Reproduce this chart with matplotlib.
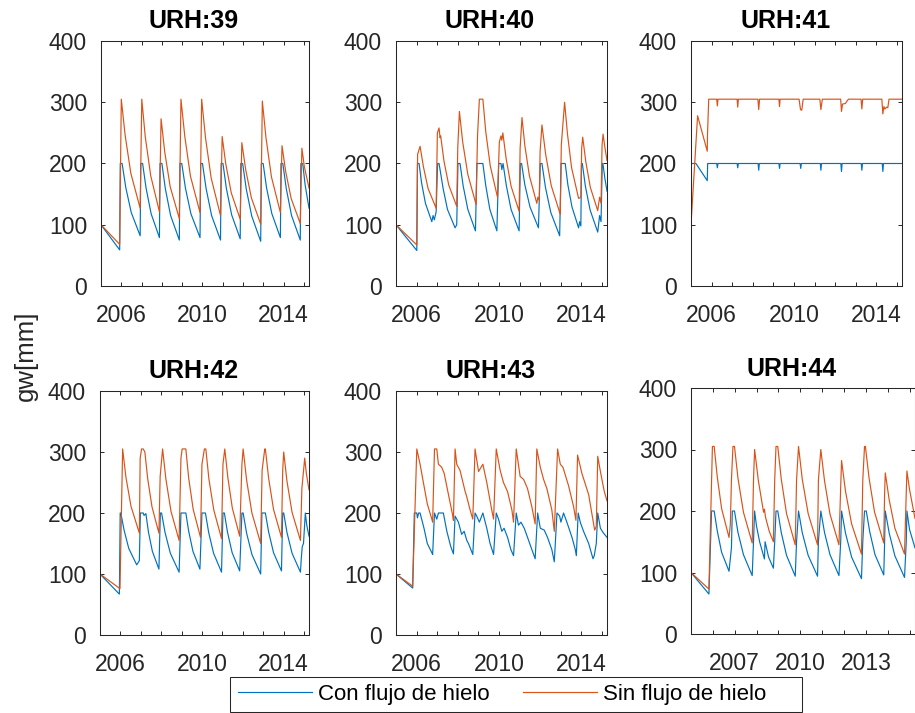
import matplotlib
matplotlib.use("Agg")
import matplotlib.pyplot as plt
from matplotlib.patches import Rectangle
from matplotlib.lines import Line2D

plt.rcParams['font.family'] = ['Liberation Sans', 'DejaVu Sans']

# ---------------------------------------------------------------------------
# Groundwater storage gw [mm] per hydrological response unit (URH),
# simulated with ice flow ("Con") and without ice flow ("Sin").
# Each series is a list of (decimal year, gw) vertices.
# ---------------------------------------------------------------------------
URH39_CON = [(2005.00, 100), (2005.92, 59), (2005.95, 200), (2006.04, 200), (2006.22, 161), (2006.49, 120), (2006.93, 82),
             (2006.96, 200), (2007.05, 200), (2007.22, 160), (2007.47, 118), (2007.88, 79),
             (2007.91, 200), (2008.00, 200), (2008.17, 159), (2008.43, 115), (2008.86, 75),
             (2008.89, 200), (2008.98, 200), (2009.16, 160), (2009.43, 118), (2009.88, 79),
             (2009.91, 200), (2010.00, 200), (2010.18, 159), (2010.45, 115), (2010.89, 75),
             (2010.92, 200), (2011.01, 200), (2011.18, 159), (2011.44, 116), (2011.86, 77),
             (2011.89, 200), (2011.98, 200), (2012.16, 158), (2012.43, 114), (2012.87, 73),
             (2012.90, 200), (2012.99, 200), (2013.16, 160), (2013.42, 118), (2013.84, 79),
             (2013.87, 200), (2013.96, 200), (2014.13, 159), (2014.39, 115), (2014.82, 75),
             (2014.85, 200), (2014.94, 200), (2015.06, 165), (2015.25, 127)]
URH39_SIN = [(2005.00, 100), (2005.92, 68), (2006.00, 305), (2006.19, 246), (2006.47, 184), (2006.93, 127),
             (2007.01, 305), (2007.18, 244), (2007.45, 180), (2007.88, 121),
             (2007.96, 273), (2008.14, 219), (2008.41, 162), (2008.86, 110),
             (2008.94, 305), (2009.13, 244), (2009.41, 179), (2009.88, 120),
             (2009.96, 305), (2010.15, 242), (2010.43, 176), (2010.89, 115),
             (2010.97, 244), (2011.15, 199), (2011.42, 152), (2011.86, 109),
             (2011.94, 234), (2012.13, 190), (2012.41, 144), (2012.87, 101),
             (2012.95, 302), (2013.13, 242), (2013.40, 178), (2013.84, 120),
             (2013.92, 229), (2014.10, 187), (2014.37, 143), (2014.82, 102),
             (2014.90, 225), (2015.02, 195), (2015.25, 160)]

URH40_CON = [(2005.00, 100), (2006.01, 58), (2006.04, 200), (2006.12, 200), (2006.24, 169), (2006.43, 135), (2006.74, 105),
             (2006.80, 115), (2006.86, 108), (2006.95, 121),
             (2007.02, 200), (2007.09, 200), (2007.14, 190), (2007.29, 159), (2007.50, 125), (2007.87, 95), (2007.95, 100),
             (2008.01, 200), (2008.11, 200), (2008.26, 164), (2008.49, 125), (2008.86, 90),
             (2008.93, 200), (2009.22, 200), (2009.36, 164), (2009.56, 125), (2009.90, 90),
             (2009.99, 200), (2010.10, 200), (2010.14, 190), (2010.20, 200), (2010.36, 164), (2010.59, 125), (2010.98, 90),
             (2011.04, 200), (2011.10, 200), (2011.26, 165), (2011.51, 129), (2011.92, 95),
             (2012.01, 200), (2012.09, 200), (2012.26, 161), (2012.52, 120), (2012.95, 82),
             (2013.02, 200), (2013.22, 200), (2013.35, 165), (2013.55, 129), (2013.87, 95), (2013.92, 105), (2013.98, 98),
             (2014.01, 200), (2014.05, 200), (2014.20, 163), (2014.43, 124), (2014.80, 88), (2014.89, 115), (2014.96, 105),
             (2015.02, 200), (2015.05, 200), (2015.15, 175), (2015.25, 155)]
URH40_SIN = [(2005.00, 100), (2006.01, 67), (2006.05, 215), (2006.17, 228), (2006.33, 195), (2006.56, 159), (2006.95, 127),
             (2007.01, 250), (2007.09, 258), (2007.14, 242), (2007.17, 245), (2007.33, 204), (2007.56, 165), (2007.95, 130),
             (2008.00, 225), (2008.08, 285), (2008.24, 235), (2008.49, 182), (2008.89, 133),
             (2008.96, 245), (2009.05, 305), (2009.22, 305), (2009.36, 252), (2009.58, 196), (2009.93, 145),
             (2010.02, 235), (2010.10, 245), (2010.14, 238), (2010.19, 250), (2010.35, 208), (2010.59, 163), (2010.98, 122),
             (2011.03, 225), (2011.12, 275), (2011.26, 229), (2011.48, 180), (2011.84, 135), (2011.89, 145), (2011.96, 140),
             (2012.00, 220), (2012.09, 263), (2012.27, 215), (2012.54, 164), (2012.98, 117),
             (2013.03, 230), (2013.19, 300), (2013.33, 248), (2013.53, 193), (2013.87, 143), (2013.98, 145),
             (2014.02, 225), (2014.07, 243), (2014.22, 203), (2014.44, 161), (2014.80, 123), (2014.89, 145), (2014.96, 135),
             (2015.01, 230), (2015.06, 248), (2015.14, 228), (2015.25, 205)]

URH41_CON = [(2005.00, 200), (2005.24, 200), (2005.79, 172), (2005.81, 200),
             (2006.25, 200), (2006.28, 193), (2006.31, 200),
             (2007.24, 200), (2007.27, 193), (2007.30, 200),
             (2008.26, 200), (2008.29, 189), (2008.32, 200),
             (2009.27, 200), (2009.30, 192), (2009.33, 200),
             (2010.30, 200), (2010.33, 192), (2010.36, 200),
             (2011.28, 200), (2011.31, 189), (2011.34, 200),
             (2012.28, 200), (2012.31, 187), (2012.34, 200),
             (2013.27, 200), (2013.30, 189), (2013.33, 200),
             (2014.29, 200), (2014.32, 187), (2014.35, 200),
             (2015.25, 200)]
URH41_SIN = [(2005.00, 100), (2005.32, 278), (2005.79, 220), (2005.80, 245), (2005.86, 305),
             (2006.25, 305), (2006.28, 294), (2006.31, 305),
             (2007.24, 305), (2007.27, 292), (2007.30, 305),
             (2008.25, 305), (2008.29, 288), (2008.33, 305),
             (2009.27, 305), (2009.30, 293), (2009.33, 305),
             (2010.25, 305), (2010.32, 288), (2010.38, 287), (2010.45, 305),
             (2011.26, 305), (2011.31, 288), (2011.38, 305),
             (2012.27, 305), (2012.31, 285), (2012.36, 297), (2012.50, 298), (2012.60, 303), (2012.65, 305),
             (2013.26, 305), (2013.30, 289), (2013.34, 305),
             (2014.27, 305), (2014.32, 281), (2014.37, 293), (2014.42, 289), (2014.50, 292), (2014.56, 291), (2014.62, 305),
             (2015.25, 305)]

URH42_CON = [(2005.00, 100), (2005.95, 67), (2005.99, 200), (2006.02, 200), (2006.18, 172), (2006.41, 142), (2006.80, 115), (2006.93, 122),
             (2006.98, 200), (2007.12, 200), (2007.16, 196), (2007.25, 199), (2007.38, 168), (2007.57, 137), (2007.89, 108),
             (2007.96, 200), (2008.02, 200), (2008.19, 168), (2008.45, 134), (2008.88, 103),
             (2008.97, 200), (2009.21, 200), (2009.35, 170), (2009.56, 137), (2009.90, 108),
             (2010.00, 200), (2010.17, 200), (2010.33, 168), (2010.57, 134), (2010.96, 103),
             (2011.03, 200), (2011.10, 200), (2011.25, 169), (2011.48, 135), (2011.85, 105),
             (2011.96, 200), (2012.02, 200), (2012.19, 167), (2012.45, 132), (2012.88, 100),
             (2012.94, 200), (2013.11, 200), (2013.27, 169), (2013.51, 135), (2013.90, 105),
             (2013.96, 200), (2014.01, 200), (2014.17, 168), (2014.42, 134), (2014.83, 103),
             (2014.87, 125), (2014.92, 145), (2014.98, 150), (2015.07, 200), (2015.14, 180), (2015.25, 162)]
URH42_SIN = [(2005.00, 100), (2005.98, 76), (2006.11, 305), (2006.27, 259), (2006.52, 211), (2006.93, 167),
             (2006.97, 290), (2007.04, 305), (2007.12, 305), (2007.20, 300), (2007.34, 256), (2007.55, 210), (2007.89, 167),
             (2007.95, 260), (2008.07, 305), (2008.23, 256), (2008.48, 203), (2008.88, 155),
             (2008.97, 290), (2009.03, 305), (2009.21, 305), (2009.35, 257), (2009.57, 206), (2009.93, 160),
             (2010.00, 280), (2010.12, 305), (2010.19, 305), (2010.34, 256), (2010.58, 205), (2010.96, 158),
             (2011.03, 280), (2011.12, 305), (2011.27, 258), (2011.49, 208), (2011.85, 162),
             (2011.96, 280), (2012.02, 305), (2012.19, 254), (2012.45, 200), (2012.88, 150),
             (2012.95, 270), (2013.08, 305), (2013.11, 305), (2013.27, 257), (2013.51, 206), (2013.90, 160),
             (2013.96, 270), (2014.01, 300), (2014.17, 252), (2014.42, 201), (2014.83, 155),
             (2014.90, 240), (2015.04, 290), (2015.12, 265), (2015.25, 238)]

URH43_CON = [(2005.00, 100), (2005.81, 77), (2005.89, 200), (2006.01, 200), (2006.04, 192), (2006.10, 200), (2006.17, 200),
             (2006.36, 175), (2006.52, 150), (2006.74, 135), (2006.78, 132),
             (2006.87, 200), (2006.98, 190), (2007.06, 200), (2007.30, 200), (2007.47, 170), (2007.66, 145), (2007.79, 133),
             (2007.87, 195), (2008.03, 185), (2008.19, 165), (2008.31, 170), (2008.44, 155), (2008.52, 150), (2008.73, 132),
             (2008.84, 200), (2008.92, 195), (2009.05, 185), (2009.22, 200), (2009.41, 175), (2009.57, 150), (2009.74, 132),
             (2009.87, 200), (2009.98, 190), (2010.14, 170), (2010.25, 175), (2010.42, 160), (2010.58, 140), (2010.71, 130),
             (2010.84, 200), (2010.95, 180), (2011.07, 185), (2011.23, 175), (2011.39, 160), (2011.60, 140), (2011.76, 125),
             (2011.88, 200), (2012.01, 175), (2012.20, 172), (2012.36, 160), (2012.57, 140), (2012.69, 120),
             (2012.82, 200), (2012.95, 195), (2013.01, 185), (2013.14, 200), (2013.30, 185), (2013.55, 160), (2013.71, 140), (2013.76, 130),
             (2013.85, 200), (2013.95, 185), (2014.11, 170), (2014.36, 150), (2014.57, 125), (2014.63, 130), (2014.73, 150),
             (2014.80, 200), (2014.93, 175), (2015.06, 168), (2015.25, 160)]
URH43_SIN = [(2005.00, 100), (2005.81, 80), (2006.01, 305), (2006.17, 280), (2006.33, 250), (2006.52, 215), (2006.74, 190), (2006.78, 185),
             (2006.87, 305), (2006.98, 305), (2007.06, 280), (2007.22, 275), (2007.34, 265), (2007.55, 230), (2007.76, 195), (2007.79, 188),
             (2007.87, 305), (2007.95, 280), (2008.11, 270), (2008.36, 235), (2008.41, 230), (2008.60, 205), (2008.73, 190),
             (2008.84, 305), (2009.01, 268), (2009.22, 280), (2009.41, 250), (2009.65, 205), (2009.74, 190),
             (2009.87, 305), (2010.06, 270), (2010.22, 250), (2010.42, 235), (2010.63, 205), (2010.71, 185),
             (2010.84, 305), (2011.03, 260), (2011.20, 255), (2011.39, 240), (2011.60, 210), (2011.76, 182),
             (2011.84, 305), (2012.01, 275), (2012.17, 255), (2012.33, 240), (2012.57, 205), (2012.69, 170),
             (2012.85, 305), (2012.98, 280), (2013.11, 275), (2013.38, 245), (2013.63, 210), (2013.74, 188),
             (2013.82, 295), (2014.03, 265), (2014.36, 230), (2014.65, 172), (2014.73, 178),
             (2014.80, 293), (2014.93, 268), (2015.06, 245), (2015.12, 235), (2015.25, 220)]

URH44_CON = [(2005.00, 100), (2005.82, 65), (2005.94, 200), (2006.06, 200), (2006.20, 168), (2006.40, 133), (2006.74, 102),
             (2006.85, 140), (2006.89, 200), (2006.99, 200), (2007.15, 165), (2007.40, 129), (2007.80, 95),
             (2007.86, 150), (2007.91, 200), (2008.00, 175), (2008.14, 150), (2008.36, 122), (2008.39, 150), (2008.55, 125), (2008.77, 107),
             (2008.83, 150), (2008.89, 200), (2008.97, 200), (2009.13, 165), (2009.37, 128), (2009.77, 94),
             (2009.83, 150), (2009.92, 200), (2010.09, 165), (2010.36, 128), (2010.79, 94),
             (2010.83, 150), (2010.94, 200), (2011.11, 165), (2011.36, 129), (2011.77, 95),
             (2011.85, 150), (2011.89, 200), (2012.07, 164), (2012.35, 125), (2012.80, 90),
             (2012.86, 150), (2012.94, 200), (2013.02, 200), (2013.18, 166), (2013.42, 129), (2013.82, 96),
             (2013.86, 150), (2013.89, 200), (2014.07, 164), (2014.33, 127), (2014.77, 92),
             (2014.85, 150), (2014.88, 200), (2015.00, 170), (2015.25, 140)]
URH44_SIN = [(2005.00, 100), (2005.82, 73), (2005.98, 305), (2006.06, 305), (2006.20, 256), (2006.40, 204), (2006.74, 157), (2006.80, 178),
             (2006.85, 250), (2006.92, 305), (2006.99, 305), (2007.15, 253), (2007.40, 198), (2007.80, 148),
             (2007.86, 250), (2007.91, 300), (2008.08, 250), (2008.32, 198), (2008.36, 203), (2008.41, 190), (2008.58, 167), (2008.77, 150),
             (2008.83, 250), (2008.89, 305), (2008.97, 305), (2009.13, 252), (2009.37, 196), (2009.77, 145),
             (2009.83, 250), (2009.92, 305), (2010.09, 252), (2010.36, 196), (2010.79, 145),
             (2010.83, 250), (2010.94, 300), (2011.11, 249), (2011.36, 195), (2011.77, 145),
             (2011.85, 240), (2011.89, 282), (2012.07, 232), (2012.35, 179), (2012.80, 130),
             (2012.86, 250), (2012.94, 305), (2012.98, 305), (2013.15, 253), (2013.40, 198), (2013.82, 148),
             (2013.86, 230), (2013.89, 262), (2014.07, 218), (2014.33, 172), (2014.77, 130),
             (2014.85, 230), (2014.88, 265), (2015.00, 235), (2015.25, 188)]

TITLES = ["URH:39", "URH:40", "URH:41", "URH:42", "URH:43", "URH:44"]
SERIES_CON = [URH39_CON, URH40_CON, URH41_CON, URH42_CON, URH43_CON, URH44_CON]
SERIES_SIN = [URH39_SIN, URH40_SIN, URH41_SIN, URH42_SIN, URH43_SIN, URH44_SIN]
LEGEND_LABELS = ["Con flujo de hielo", "Sin flujo de hielo"]
YEAR_TICKS = list(range(2006, 2016))
YEAR_LABELS_A = [2006, 2010, 2014]
YEAR_LABELS_B = [2007, 2010, 2013]
Y_TICKS = [0, 100, 200, 300, 400]
Y_LABEL = "gw[mm]"

# ---------------------------------------------------------------------------
W, H = 915, 713
fig = plt.figure(figsize=(W / 100, H / 100), dpi=100)
fig.patch.set_facecolor('white')

BLUE = '#0072BD'
ORANGE = '#D95319'
INK = '#262626'


def frac_rect(left, top, right, bottom):
    return [left / W, 1 - bottom / H, (right - left) / W, (bottom - top) / H]


# axes boxes in pixels (left, top, right, bottom) and title anchor (x, baseline)
BOXES = [(101, 41, 309, 286), (396, 41, 607, 286), (691, 41, 902, 286),
         (100, 391, 309, 635), (396, 391, 607, 635), (691, 388, 915, 634)]
TITLE_POS = [(194, 28), (490, 28), (786, 28), (194, 378), (491, 378), (792, 376)]
LABEL_SETS = [YEAR_LABELS_A] * 5 + [YEAR_LABELS_B]

for i in range(6):
    ax = fig.add_axes(frac_rect(*BOXES[i]))
    con = SERIES_CON[i]
    sin = SERIES_SIN[i]
    ax.plot([p[0] for p in con], [p[1] for p in con], color=BLUE, lw=0.85)
    ax.plot([p[0] for p in sin], [p[1] for p in sin], color=ORANGE, lw=0.85)
    ax.set_xlim(2005.0, 2015.25)
    ax.set_ylim(0, 400)
    ax.set_xticks(YEAR_TICKS)
    ax.set_xticklabels([str(y) if y in LABEL_SETS[i] else '' for y in YEAR_TICKS])
    ax.set_yticks(Y_TICKS)
    ax.set_yticklabels([str(v) for v in Y_TICKS])
    ax.tick_params(direction='in', length=3, width=0.7, color=INK, labelcolor=INK,
                   labelsize=16.5, top=True, right=True)
    ax.tick_params(axis='x', pad=13)
    ax.tick_params(axis='y', pad=10)
    for s in ax.spines.values():
        s.set_color(INK)
        s.set_linewidth(0.75)
    tx, ty = TITLE_POS[i]
    fig.text(tx / W, 1 - ty / H, TITLES[i], ha='center', va='baseline',
             fontsize=18, fontweight='bold', color='black')

fig.text(26.3 / W, 1 - 356 / H, Y_LABEL, rotation=90, ha='center', va='center',
         fontsize=18.5, color=INK)

handles = [Line2D([], [], color=BLUE, lw=0.85), Line2D([], [], color=ORANGE, lw=0.85)]
fig.legend(handles, LEGEND_LABELS, loc='center left', bbox_to_anchor=(230 / W, 1 - 694.5 / H),
           ncol=2, frameon=False, fontsize=16, handlelength=3.33, handletextpad=0.27,
           columnspacing=1.49, borderpad=0.38, borderaxespad=0)
fig.patches.append(Rectangle((230 / W, 1 - 712 / H), 572 / W, 35 / H, transform=fig.transFigure,
                             fill=False, edgecolor=INK, lw=0.75))

fig.savefig("out.png", dpi=100, facecolor='white')
